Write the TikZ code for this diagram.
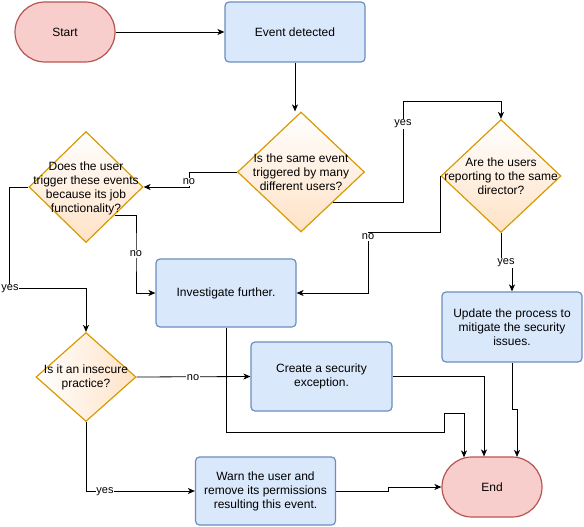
\documentclass[tikz,border=0pt]{standalone}
\usepackage{fontspec}
\setmainfont{Liberation Sans}
\usetikzlibrary{shapes.geometric,arrows.meta,calc}
\definecolor{termfill}{HTML}{F8CECC}
\definecolor{termdraw}{HTML}{B85450}
\definecolor{procfill}{HTML}{DAE8FC}
\definecolor{procdraw}{HTML}{6C8EBF}
\definecolor{decfill}{HTML}{FFE2C6}
\definecolor{decdraw}{HTML}{D79B00}
\begin{document}
\begin{tikzpicture}[x=1pt,y=-1pt,
 term/.style={draw=termdraw, fill=termfill, line width=1.2pt, rounded corners=30pt,
   minimum width=100pt, minimum height=60pt, inner sep=0, font=\fontsize{12}{14}\selectfont},
 proc/.style={draw=procdraw, fill=procfill, line width=1.2pt, rounded corners=4pt,
   minimum width=140pt, inner sep=0, align=center, font=\fontsize{12}{14}\selectfont},
 dec/.style={diamond, draw=decdraw, line width=1.2pt, top color=white, bottom color=decfill, inner sep=0},
 txt/.style={font=\fontsize{12}{14}\selectfont, align=center, inner sep=0},
 lbl/.style={font=\fontsize{11}{13}\selectfont, fill=white, inner sep=0.5pt},
 arr/.style={-{Stealth[length=7pt,width=6pt,inset=2pt]}, line width=0.8pt},
 ln/.style={line width=0.8pt}]
\useasboundingbox (0,0) rectangle (584,527);

% nodes
\node[term] (start) at (65,32) {Start};
\node[proc, minimum height=60pt] (event) at (295,32) {Event detected};
\node[dec, minimum width=127pt, minimum height=120pt] (d1) at (301,172) {};
\node[txt] (d1t) at (d1) {Is the same event\\triggered by many\\different users?};
\node[dec, minimum width=114pt, minimum height=111pt] (d2) at (86,187) {};
\node[txt] (d2t) at (86,188) {Does the user\\trigger these events\\because its job\\functionality?};
\node[dec, minimum width=120pt, minimum height=113pt] (d3) at (501,176) {};
\node[txt] (d3t) at (d3) {Are the users\\reporting to the same\\director?};
\node[dec, left color=white, right color=decfill, minimum width=100pt, minimum height=89pt] (d4) at (86,377) {};
\node[txt] (d4t) at (d4) {Is it an insecure\\practice?};
\node[proc, minimum height=68pt] (inv) at (226,293) {Investigate further.};
\node[proc, minimum width=141pt, minimum height=69pt] (exc) at (321.5,376.5) {Create a security\\exception.};
\node[proc, minimum height=68pt] (warn) at (265.5,491) {Warn the user and\\remove its permissions\\resulting this event.};
\node[proc, minimum height=70pt] (upd) at (512,327) {Update the process to\\mitigate the security\\issues.};
\node[term] (end) at (492,487) {End};

% connectors
\draw[arr] (start.east) -- (event.west);
\draw[arr] (event.south) -- (event.south |- d1.north);
\draw[arr] (d1.west) -- (189,172) |- (d2.east);
\draw[arr] (d1.south east) -| (403,101) -| (d3.north);
\draw[arr] (d3.west) |- (368,232) |- (inv.east);
\draw[arr] (d3.south) |- (512,262) -- (upd.north);
\draw[arr] (d2.south east) -| (136,250) |- (inv.west);
\draw[arr] (d2.west) -- (9,187) |- (86,288) -- (d4.north);
\draw[arr] (d4.east) -- (exc.west);
\draw[arr] (d4.south) |- (warn.west);
\draw[arr] (warn.east) -- (388,491) |- (end.west);
\draw[arr] (inv.south) |- (444,432) |- (464,413) -- ($(end.north)+(-28,1)$);
\draw[arr] (exc.east) -| ($(end.north)+(-8,0)$);
\draw[arr] (upd.south) |- (517,409) -- ($(end.north)+(25,0.5)$);

% labels
\node[lbl] (l1) at (189,182) {no};
\node[lbl] (l2) at (403,124) {yes};
\node[lbl] (l3) at (368,237) {no};
\node[lbl] (l4) at (506,263) {yes};
\node[lbl] (l5) at (136,254) {no};
\node[lbl] (l6) at (10,289) {yes};
\node[lbl] (l7) at (193,378) {no};
\node[lbl] (l8) at (105,492) {yes};
\end{tikzpicture}
\end{document}
